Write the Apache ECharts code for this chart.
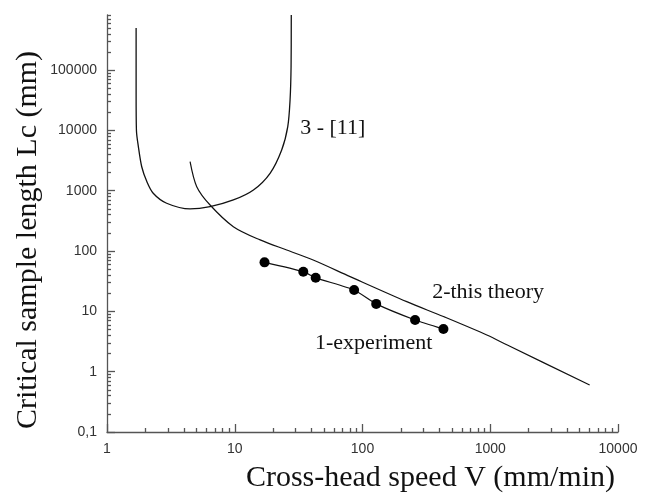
<!DOCTYPE html>
<html>
<head>
<meta charset="utf-8">
<script src="https://cdn.jsdelivr.net/npm/echarts@6/dist/echarts.min.js"></script>
<style>
  html, body { margin: 0; padding: 0; background: #fff; }
  #chart { width: 648px; height: 496px; }
</style>
</head>
<body>
<div id="chart"></div>
<script>
// curve 1 - experiment (V mm/min, Lc mm)
const experiment = [[17.1, 65], [34.4, 45.5], [43, 36], [86, 22.6], [128, 13.3], [258, 7.2], [430, 5.1]]
// curve 2 - this theory
const theory = [[4.47, 3040], [5.04, 1170], [6.41, 580], [9.75, 254], [15.8, 153], [25.5, 104], [41.1, 71],
  [80, 37.7], [222, 14.5], [430, 8.2], [940, 4.06], [1360, 2.77], [6000, 0.6]]
// curve 3 - ref [11]
const ref11 = [[1.69, 5.0e5], [1.69, 3.9e4], [1.70, 1.0e4], [1.76, 5400], [1.87, 2500], [2.05, 1420], [2.30, 910],
  [2.93, 621], [4.47, 499], [6.41, 545], [9.75, 703], [14.0, 1030], [18.9, 1950], [23.3, 4750], [26.0, 11600],
  [27.1, 32000], [27.6, 115000], [27.7, 820000]]

const xMajor = [1, 10, 100, 1000, 10000]
const yMajor = [0.1, 1, 10, 100, 1000, 10000, 100000]
const xMinor = []
const yMinor = []
for (let d = 1; d < 10000; d *= 10) for (let k = 2; k <= 9; k++) xMinor.push(k * d)
for (let d = 0.1; d < 1e6; d *= 10) for (let k = 2; k <= 9; k++) if (k * d <= 820000) yMinor.push(+(k * d).toPrecision(3))

// curve captions, anchored in data coordinates (left edge, middle)
const captions = [
  { text: '3 - [11]', at: [32.5, 11000] },
  { text: '2-this theory', at: [351, 21] },
  { text: '1-experiment', at: [42.5, 3.0] }
]

const fmt = v => {
  if (v === 0.1) return '0,1'
  return String(Math.round(v))
}

const axisColor = '#555'
const chart = echarts.init(document.getElementById('chart'))
const option = {
  animation: false,
  grid: { left: 107, right: 30, top: 15, bottom: 64 },
  xAxis: [
    {
      type: 'log', min: 1, max: 10000, logBase: 10,
      axisLine: { lineStyle: { color: axisColor, width: 1.3 } },
      axisTick: { inside: true, length: 8, customValues: xMajor, lineStyle: { color: axisColor, width: 1.3 } },
      axisLabel: { customValues: xMajor, formatter: fmt, color: '#333', fontSize: 14, fontFamily: 'Liberation Sans', margin: 10 },
      splitLine: { show: false }
    },
    {
      type: 'log', min: 1, max: 10000, logBase: 10, position: 'bottom',
      axisLine: { show: false },
      axisTick: { inside: true, length: 4, customValues: xMinor, lineStyle: { color: axisColor, width: 1.3 } },
      axisLabel: { show: false },
      splitLine: { show: false }
    }
  ],
  yAxis: [
    {
      type: 'log', min: 0.1, max: 820000, logBase: 10,
      axisLine: { show: true, lineStyle: { color: axisColor, width: 1.3 } },
      axisTick: { show: true, inside: true, length: 8, customValues: yMajor, lineStyle: { color: axisColor, width: 1.3 } },
      axisLabel: { customValues: yMajor, formatter: fmt, color: '#333', fontSize: 14, fontFamily: 'Liberation Sans', margin: 10 },
      splitLine: { show: false }
    },
    {
      type: 'log', min: 0.1, max: 820000, logBase: 10, position: 'left',
      axisLine: { show: false },
      axisTick: { show: true, inside: true, length: 4, customValues: yMinor, lineStyle: { color: axisColor, width: 1.3 } },
      axisLabel: { show: false },
      splitLine: { show: false }
    }
  ],
  series: [
    {
      name: '3 - [11]', type: 'line', data: ref11, smooth: 0.3,
      showSymbol: false, lineStyle: { color: '#111', width: 1.3 }
    },
    {
      name: '2-this theory', type: 'line', data: theory, smooth: 0.3,
      showSymbol: false, lineStyle: { color: '#111', width: 1.2 }
    },
    {
      name: '1-experiment', type: 'line', data: experiment, smooth: 0.2,
      symbol: 'circle', symbolSize: 10, showSymbol: true,
      itemStyle: { color: '#000' }, lineStyle: { color: '#111', width: 1.2 }
    }
  ]
}
chart.setOption(option)

const serif = 'Liberation Serif'
const graphics = captions.map(c => {
  const p = chart.convertToPixel({ gridIndex: 0 }, c.at)
  return {
    type: 'text', x: p[0], y: p[1],
    style: { text: c.text, font: '22px "' + serif + '"', fill: '#111', align: 'left', verticalAlign: 'middle' }
  }
})
graphics.push({
  type: 'text', x: 615, y: 478,
  style: { text: 'Cross-head speed V (mm/min)', font: '30px "' + serif + '"', fill: '#111', align: 'right', verticalAlign: 'middle' }
})
graphics.push({
  type: 'text', x: 28, y: 240, rotation: Math.PI / 2,
  style: { text: 'Critical sample length Lc (mm)', font: '30px "' + serif + '"', fill: '#111', align: 'center', verticalAlign: 'middle' }
})
chart.setOption({ graphic: graphics })
</script>
</body>
</html>
